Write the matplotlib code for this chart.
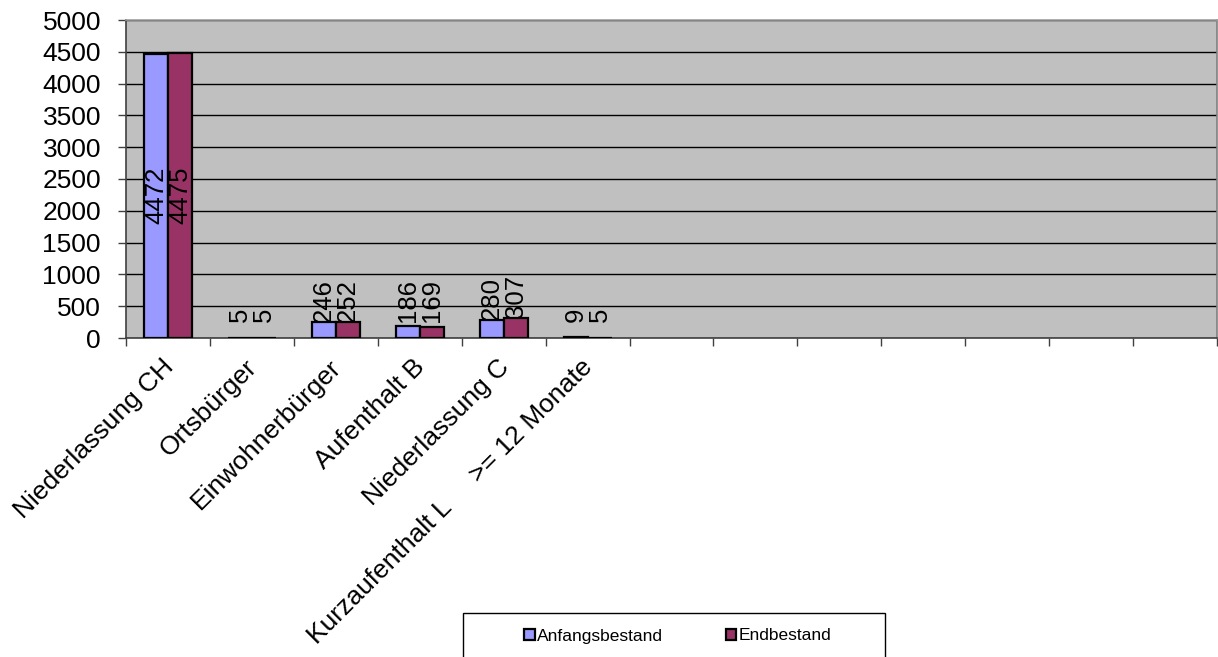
import matplotlib
matplotlib.use('Agg')
import matplotlib.pyplot as plt
import matplotlib.transforms as mtrans
import numpy as np
from matplotlib.patches import Rectangle

categories = ['Niederlassung CH', 'Ortsbürger', 'Einwohnerbürger', 'Aufenthalt B',
              'Niederlassung C', 'Kurzaufenthalt L     >= 12 Monate',
              '', '', '', '', '', '', '']
anfangsbestand = [4472, 5, 246, 186, 280, 9]
endbestand = [4475, 5, 252, 169, 307, 5]
series_names = ['Anfangsbestand', 'Endbestand']

plt.rcParams['font.family'] = ['Liberation Sans', 'DejaVu Sans']

W, H = 1218, 657
fig = plt.figure(figsize=(W / 100, H / 100), dpi=100)
ax = fig.add_axes([126 / W, 1 - 338 / H, (1217 - 126) / W, (338 - 20) / H])
ax.set_facecolor('#C0C0C0')

n = len(categories)
bar_w = 0.286
x = np.arange(len(anfangsbestand))

bars1 = ax.bar(x - bar_w / 2, anfangsbestand, bar_w, color='#9999FF', edgecolor='black',
               linewidth=1.6, label=series_names[0], zorder=3)
bars2 = ax.bar(x + bar_w / 2, endbestand, bar_w, color='#993366', edgecolor='black',
               linewidth=1.6, label=series_names[1], zorder=3)

# data labels: centered inside the tall bars, above the others
# (Excel keeps labels of tiny bars a little off the axis)
label_floor = 250
for bars in (bars1, bars2):
    for b in bars:
        v = b.get_height()
        cx = b.get_x() + b.get_width() / 2
        if v > 4000:
            ax.text(cx, v / 2, str(int(v)), rotation=90, ha='center', va='center',
                    fontsize=18.5, zorder=4)
        else:
            ax.text(cx, max(v, label_floor), str(int(v)), rotation=90, ha='center',
                    va='bottom', fontsize=18.5, zorder=4)

ax.set_xlim(-0.5, n - 0.5)
ax.set_ylim(0, 5000)
ax.set_yticks(np.arange(0, 5001, 500))
ax.yaxis.grid(True, color='black', linewidth=1, zorder=1)
ax.set_axisbelow(True)

ax.set_xticks(np.arange(n + 1) - 0.5)
ax.set_xticklabels([])
ax.set_xticks(np.arange(n), minor=True)
ax.set_xticklabels(categories, minor=True, rotation=45, ha='right',
                   rotation_mode='anchor', fontsize=19)
ax.tick_params(axis='x', which='major', length=6, width=1, color='#404040', direction='out')
ax.tick_params(axis='x', which='minor', length=0, pad=10)
ax.tick_params(axis='y', length=6, width=1, color='#404040', labelsize=19, pad=12)

# nudge the slanted labels a bit left/down (after tick_params, which resets transforms)
shift = mtrans.ScaledTranslation(-0.07, -0.03, fig.dpi_scale_trans)
for lab in ax.get_xticklabels(minor=True):
    lab.set_transform(lab.get_transform() + shift)

ax.spines['left'].set_color('#404040')
ax.spines['bottom'].set_color('#404040')
ax.spines['top'].set_color('#A0A0A0')
ax.spines['right'].set_color('#808080')
for s in ax.spines.values():
    s.set_linewidth(1.2)

fig.legend(handles=[bars1, bars2], labels=series_names, loc='center',
           bbox_to_anchor=(678 / W, 1 - 636 / H), ncol=2, frameon=False, fontsize=12.5,
           handlelength=0.6, handleheight=0.6, handletextpad=0.15, columnspacing=3.6)
fig.patches.append(Rectangle((463 / W, -0.02), (885 - 463) / W, 0.02 + (657 - 613) / H,
                             transform=fig.transFigure, fill=False, edgecolor='black',
                             linewidth=1))

fig.savefig('out.png', dpi=100)
